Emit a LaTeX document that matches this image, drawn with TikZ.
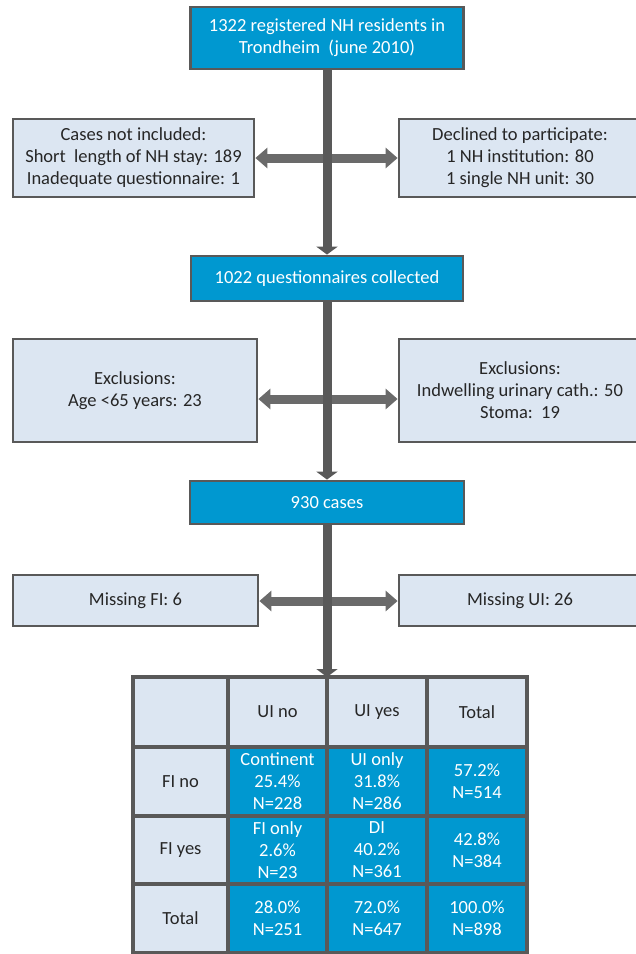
\documentclass[tikz,border=0pt]{standalone}
\usepackage{fontspec}
\setmainfont{Carlito}
\usetikzlibrary{arrows.meta}
\definecolor{boxblue}{HTML}{0098D0}
\definecolor{boxlight}{HTML}{DCE6F2}
\definecolor{edgegray}{HTML}{595959}
\definecolor{arrowgray}{HTML}{6A6A6A}
\definecolor{txtdark}{HTML}{262626}
\begin{document}
\begin{tikzpicture}[x=1pt,y=-1pt,
  basebox/.style={draw=edgegray, line width=2.8pt, align=center, inner sep=0pt, font=\fontsize{18.5}{22}\selectfont},
  bluebox/.style={basebox, fill=boxblue, text=white},
  lightbox/.style={basebox, fill=boxlight, text=txtdark},
  cellbase/.style={draw=edgegray, line width=3.5pt, align=center, inner sep=0pt, outer sep=0pt, font=\fontsize{18.5}{22}\selectfont},
  bluecell/.style={cellbase, fill=boxblue, text=white},
  lightcell/.style={cellbase, fill=boxlight, text=txtdark},
  trunkline/.style={draw=edgegray, line width=9pt},
  downarrow/.style={trunkline, -{Triangle[width=21pt,length=8pt]}},
  sidearrow/.style={draw=arrowgray, line width=9pt, -{Triangle[width=20pt,length=12pt]}}
]
\clip (0,0) rectangle (636,954);
\fill[white] (0,0) rectangle (636,954);

% main column boxes
\node[bluebox, minimum width=273pt, minimum height=62pt] (top) at (327,38)
  {1322 registered NH residents in\\Trondheim\ \ (june 2010)};
\node[bluebox, minimum width=272pt, minimum height=45pt] (q) at (327,278.5)
  {1022 questionnaires collected};
\node[bluebox, minimum width=274pt, minimum height=43pt] (c930) at (327,502.5)
  {930 cases};

% side boxes
\node[lightbox, minimum width=241pt, minimum height=78pt] (l1) at (133.5,158)
  {Cases not included:\\Short\ \ length of NH stay: 189\\Inadequate questionnaire: 1};
\node[lightbox, minimum width=242pt, minimum height=78pt] (r1) at (520,158)
  {Declined to participate:\\1 NH institution: 80\\1 single NH unit: 30};
\node[lightbox, minimum width=244pt, minimum height=103pt] (l2) at (135,390.5)
  {Exclusions:\\Age {<}65 years: 23};
\node[lightbox, minimum width=242pt, minimum height=103pt] (r2) at (520,390.5)
  {Exclusions:\\Indwelling urinary cath.: 50\\Stoma:\ \ 19};
\node[lightbox, minimum width=245pt, minimum height=51pt] (l3) at (135.5,600.5)
  {Missing FI: 6};
\node[lightbox, minimum width=242pt, minimum height=51pt] (r3) at (520,600.5)
  {Missing UI: 26};

% table
\node[lightcell, minimum width=95pt, minimum height=70pt] (h0) at (180.5,712) {};
\node[lightcell, minimum width=99pt, minimum height=70pt] (h1) at (277.5,712) {UI no};
\node[lightcell, minimum width=100pt, minimum height=70pt] (h2) at (377,712) {UI yes};
\node[lightcell, minimum width=100pt, minimum height=70pt] (h3) at (477,712) {Total};

\node[lightcell, minimum width=95pt, minimum height=69pt] (a0) at (180.5,781.5) {FI no};
\node[bluecell, minimum width=99pt, minimum height=69pt] (a1) at (277.5,781.5) {Continent\\25.4\%\\N=228};
\node[bluecell, minimum width=100pt, minimum height=69pt] (a2) at (377,781.5) {UI only\\31.8\%\\N=286};
\node[bluecell, minimum width=100pt, minimum height=69pt] (a3) at (477,781.5) {57.2\%\\N=514};

\node[lightcell, minimum width=95pt, minimum height=68pt] (b0) at (180.5,850) {FI yes};
\node[bluecell, minimum width=99pt, minimum height=68pt] (b1) at (277.5,850) {FI only\\2.6\%\\N=23};
\node[bluecell, minimum width=100pt, minimum height=68pt] (b2) at (377,850) {DI\\40.2\%\\N=361};
\node[bluecell, minimum width=100pt, minimum height=68pt] (b3) at (477,850) {42.8\%\\N=384};

\node[lightcell, minimum width=95pt, minimum height=69pt] (t0) at (180.5,918.5) {Total};
\node[bluecell, minimum width=99pt, minimum height=69pt] (t1) at (277.5,918.5) {28.0\%\\N=251};
\node[bluecell, minimum width=100pt, minimum height=69pt] (t2) at (377,918.5) {72.0\%\\N=647};
\node[bluecell, minimum width=100pt, minimum height=69pt] (t3) at (477,918.5) {100.0\%\\N=898};

% junction coordinates on the trunk
\coordinate (j1) at (327,158);
\coordinate (j2) at (327,399);
\coordinate (j3) at (327,601);

% side arrows
\draw[sidearrow] (j1) -- (l1.east |- j1);
\draw[sidearrow] (j1) -- (r1.west |- j1);
\draw[sidearrow] (j2) -- (l2.east |- j2);
\draw[sidearrow] (j2) -- (r2.west |- j2);
\draw[sidearrow] (j3) -- (l3.east |- j3);
\draw[sidearrow] (j3) -- (r3.west |- j3);

% trunk
\draw[downarrow] (top.south) -- (q.north);
\draw[downarrow] (q.south) -- (c930.north);
\draw[downarrow] (c930.south) -- (h1.north east);
\end{tikzpicture}
\end{document}
